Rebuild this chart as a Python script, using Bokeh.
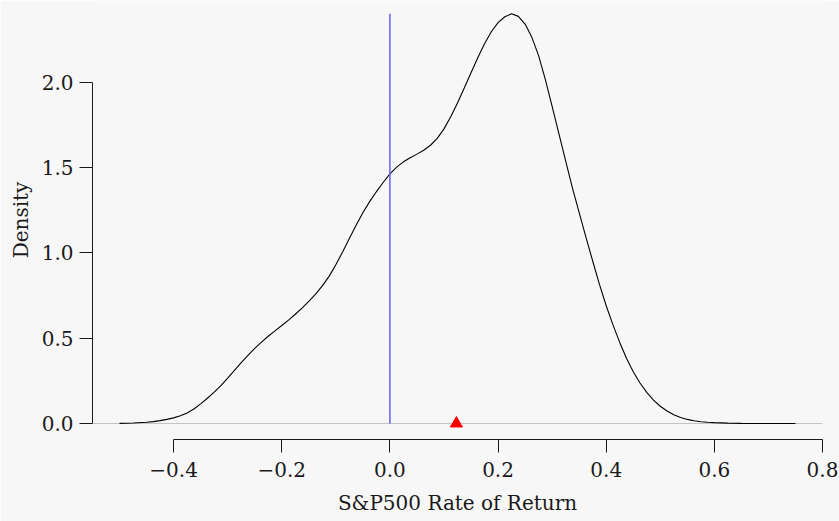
from bokeh.plotting import figure
from bokeh.models import Range1d, FixedTicker, CustomJSTickFormatter
from bokeh.embed import file_html
from bokeh.resources import INLINE

# Density curve
curve_x = [-0.500, -0.475, -0.450, -0.4375, -0.425, -0.4125, -0.400, -0.3875, -0.375,
           -0.3625, -0.350, -0.3375, -0.325, -0.3125, -0.300, -0.2875, -0.275,
           -0.2625, -0.250, -0.2375, -0.225, -0.2125, -0.200, -0.1875, -0.175,
           -0.1625, -0.150, -0.1375, -0.125, -0.1125, -0.100, -0.0875, -0.075,
           -0.0625, -0.050, -0.0375, -0.025, -0.0125, 0.000, 0.0125, 0.025, 0.0375,
           0.050, 0.0625, 0.075, 0.0875, 0.100, 0.1125, 0.125, 0.1375, 0.150,
           0.1625, 0.175, 0.1875, 0.200, 0.2125, 0.225, 0.2375, 0.250, 0.2625,
           0.275, 0.2875, 0.300, 0.3125, 0.325, 0.3375, 0.350, 0.3625, 0.375,
           0.3875, 0.400, 0.4125, 0.425, 0.4375, 0.450, 0.4625, 0.475, 0.4875,
           0.500, 0.5125, 0.525, 0.5375, 0.550, 0.5625, 0.575, 0.5875, 0.600,
           0.625, 0.650, 0.700, 0.750]
curve_y = [0.001, 0.003, 0.007, 0.011, 0.017, 0.024, 0.033, 0.045, 0.062,
           0.085, 0.115, 0.148, 0.184, 0.222, 0.266, 0.311, 0.356,
           0.399, 0.440, 0.477, 0.511, 0.543, 0.574, 0.606, 0.640,
           0.676, 0.715, 0.758, 0.806, 0.862, 0.930, 1.005, 1.084,
           1.162, 1.235, 1.300, 1.358, 1.412, 1.462, 1.502, 1.533, 1.557,
           1.578, 1.601, 1.630, 1.670, 1.726, 1.797, 1.878, 1.965, 2.055,
           2.143, 2.225, 2.295, 2.348, 2.383, 2.400, 2.385, 2.340, 2.262,
           2.155, 2.015, 1.858, 1.698, 1.538, 1.380, 1.235, 1.092, 0.952,
           0.815, 0.690, 0.578, 0.475, 0.382, 0.303, 0.237, 0.182, 0.137,
           0.101, 0.073, 0.051, 0.035, 0.024, 0.016, 0.010, 0.007, 0.005,
           0.002, 0.001, 0.000, 0.000]

zero_line_x = [0.0, 0.0]
zero_line_y = [0.0, 2.400]
mean_return = [0.123]
mean_y = [0.0]

x_ticks = [-0.4, -0.2, 0.0, 0.2, 0.4, 0.6, 0.8]
y_ticks = [0.0, 0.5, 1.0, 1.5, 2.0]
x_title = "S&P500 Rate of Return"
y_title = "Density"

BG = "#f7f7f7"
FONT = "DejaVu Serif"
FS = "20px"
INK = "#1a1a1a"

p = figure(width=839, height=521, output_backend="svg", toolbar_location=None,
           x_range=Range1d(-0.55, 0.80), y_range=Range1d(-0.0937, 2.478),
           min_border_left=92, min_border_right=17, min_border_top=0, min_border_bottom=82)
p.background_fill_color = BG
p.border_fill_color = BG
p.outline_line_color = None
p.xgrid.visible = False
p.ygrid.visible = False

# baseline
p.line([-0.55, 0.80], [0, 0], line_color="#c4c4c4", line_width=1.2)
# curve
p.line(curve_x, curve_y, line_color="black", line_width=1.1)
# vertical line at zero
p.line(zero_line_x, zero_line_y, line_color="#6b6bf2", line_width=1.6)
# mean marker
p.scatter(mean_return, mean_y, marker="triangle", size=12, fill_color="red", line_color="red")

fmt = CustomJSTickFormatter(code="return tick.toFixed(1).replace('-', '\u2212');")
for ax, ticks, bounds in ((p.xaxis[0], x_ticks, (-0.4, 0.8)), (p.yaxis[0], y_ticks, (0.0, 2.0))):
    ax.ticker = FixedTicker(ticks=ticks)
    ax.formatter = fmt
    ax.bounds = bounds
    ax.major_tick_out = 13
    ax.major_tick_in = 0
    ax.minor_tick_line_color = None
    ax.axis_line_color = INK
    ax.major_tick_line_color = INK
    ax.major_label_text_font = FONT
    ax.major_label_text_font_size = FS
    ax.major_label_text_color = INK
    ax.axis_label_text_font = FONT
    ax.axis_label_text_font_size = FS
    ax.axis_label_text_font_style = "normal"
    ax.axis_label_text_color = INK

p.xaxis[0].axis_label = x_title
p.yaxis[0].axis_label = y_title
p.xaxis[0].major_label_standoff = 9
p.yaxis[0].major_label_standoff = 6
p.xaxis[0].axis_label_standoff = 11
p.yaxis[0].axis_label_standoff = 6
p.yaxis[0].major_label_orientation = "horizontal"

open("out.html", "w").write(file_html(p, INLINE))
